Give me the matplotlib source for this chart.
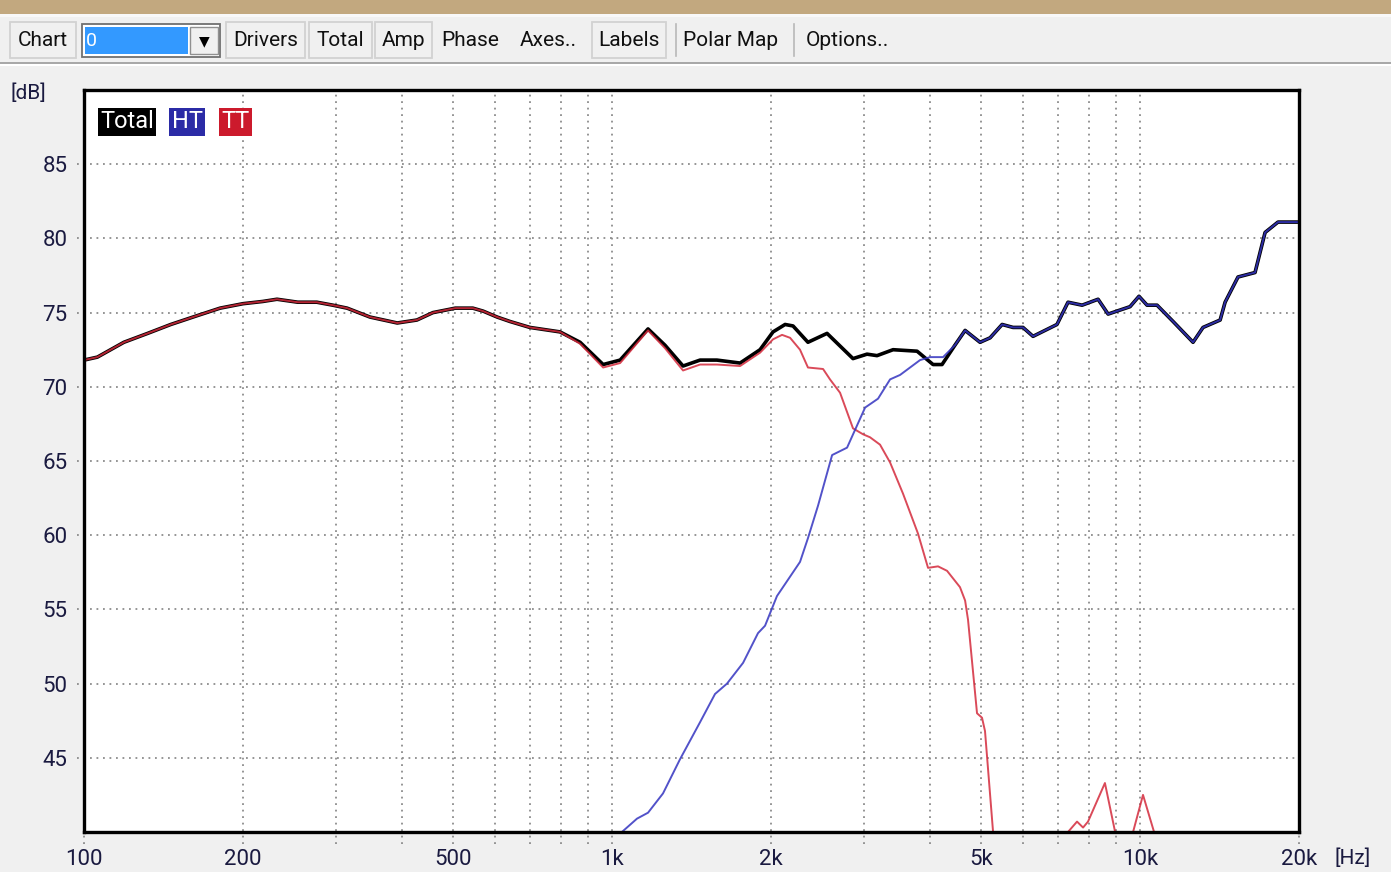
import numpy as np
import matplotlib.pyplot as plt
from matplotlib.patches import Rectangle
from matplotlib.ticker import FixedLocator, NullLocator, NullFormatter

# frequency response data
freq_total = [100, 106, 119, 132, 146, 164, 181, 200, 218, 232, 254, 276, 296, 315, 348,
              392, 427, 458, 505, 545, 570, 606, 641, 699, 797, 870, 962, 1036, 1170,
              1260, 1363, 1468, 1580, 1748, 1907, 2018, 2127, 2202, 2350, 2554, 2860,
              3040, 3176, 3406, 3782, 4055, 4217, 4460, 4663, 4977, 5200, 5480, 5748,
              6002, 6271, 6961, 7304, 7768, 8327, 8700, 9573, 9954, 10310, 10770,
              11550, 12600, 13160, 14180, 14490, 15330, 16510, 17250, 18250, 20000]
spl_total = [71.8, 72.0, 73.0, 73.6, 74.2, 74.8, 75.3, 75.6, 75.75, 75.9, 75.7, 75.7,
             75.5, 75.3, 74.7, 74.3, 74.5, 75.0, 75.3, 75.3, 75.1, 74.7, 74.4, 74.0,
             73.7, 73.0, 71.5, 71.8, 73.9, 72.8, 71.4, 71.8, 71.8, 71.6, 72.5, 73.7,
             74.2, 74.1, 73.0, 73.6, 71.9, 72.2, 72.1, 72.5, 72.4, 71.5, 71.5, 72.8,
             73.8, 73.0, 73.3, 74.2, 74.0, 74.0, 73.4, 74.2, 75.7, 75.5, 75.9, 74.9,
             75.4, 76.1, 75.5, 75.5, 74.4, 73.0, 74.0, 74.5, 75.7, 77.4, 77.7, 80.4,
             81.1, 81.1]

freq_ht = [1000, 1044, 1115, 1170, 1249, 1345, 1468, 1567, 1651, 1771, 1890, 1949, 2053,
           2270, 2350, 2456, 2611, 2787, 2886, 3015, 3190, 3362, 3512, 3831, 4003, 4236,
           4460, 4663, 4977, 5200, 5480, 5748, 6002, 6271, 6961, 7304, 7768, 8327,
           8700, 9573, 9954, 10310, 10770, 11550, 12600, 13160, 14180, 14490, 15330,
           16510, 17250, 18250, 20000]
spl_ht = [38.5, 40.0, 40.9, 41.3, 42.6, 44.9, 47.4, 49.3, 50.0, 51.4, 53.4, 53.9, 55.9,
          58.2, 59.8, 62.0, 65.4, 65.9, 67.1, 68.6, 69.2, 70.5, 70.8, 71.8, 72.0, 72.0,
          72.8, 73.8, 73.0, 73.3, 74.2, 74.0, 74.0, 73.4, 74.2, 75.7, 75.5, 75.9,
          74.9, 75.4, 76.1, 75.5, 75.5, 74.4, 73.0, 74.0, 74.5, 75.7, 77.4, 77.7,
          80.4, 81.1, 81.1]

freq_tt = [100, 106, 119, 132, 146, 164, 181, 200, 218, 232, 254, 276, 296, 315, 348,
           392, 427, 458, 505, 545, 570, 606, 641, 699, 797, 870, 962, 1036, 1170, 1260,
           1363, 1468, 1580, 1748, 1907, 2018, 2099, 2174, 2270, 2350, 2510, 2587, 2703,
           2860, 2988, 3080, 3218, 3362, 3557, 3798, 3967, 4144, 4310, 4560, 4663, 4723,
           4912, 5020, 5086, 5268, 5500, 7100, 7304, 7597, 7800, 7970, 8580, 8970, 9200,
           9500, 9700, 10130, 10630, 11000, 20000]
spl_tt = [71.8, 72.0, 73.0, 73.6, 74.2, 74.8, 75.3, 75.6, 75.75, 75.9, 75.7, 75.7, 75.5,
          75.3, 74.7, 74.3, 74.5, 75.0, 75.3, 75.3, 75.1, 74.7, 74.4, 74.0, 73.7, 72.9,
          71.3, 71.6, 73.8, 72.6, 71.1, 71.5, 71.5, 71.4, 72.3, 73.2, 73.5, 73.3, 72.5,
          71.3, 71.2, 70.5, 69.6, 67.2, 66.8, 66.6, 66.1, 64.9, 62.8, 60.1, 57.8, 57.9,
          57.6, 56.5, 55.6, 54.3, 48.0, 47.7, 46.8, 40.0, 34.0, 34.0, 40.0, 40.7, 40.3,
          40.7, 43.3, 40.0, 34.0, 34.0, 40.0, 42.5, 40.0, 34.0, 30.0]

x_grid = [100, 200, 300, 400, 500, 600, 700, 800, 900, 1000, 2000, 3000, 4000, 5000,
          6000, 7000, 8000, 9000, 10000, 20000]
x_labels = {100: '100', 200: '200', 500: '500', 1000: '1k', 2000: '2k',
            5000: '5k', 10000: '10k', 20000: '20k'}
y_grid = [45, 50, 55, 60, 65, 70, 75, 80, 85]

font = ['Roboto', 'DejaVu Sans']
txt_col = '#1a1a40'

fig = plt.figure(figsize=(13.91, 8.72), dpi=100, facecolor='#f0f0f0')

# toolbar / window chrome, pixel coordinates
ui = fig.add_axes([0, 0, 1, 1], zorder=-1)
ui.set_xlim(0, 1391)
ui.set_ylim(872, 0)
ui.axis('off')
ui.add_patch(Rectangle((0, 0), 1391, 14, facecolor='#c2a87f', edgecolor='none'))
ui.add_patch(Rectangle((0, 14), 1391, 3, facecolor='#f8f8f8', edgecolor='none'))
ui.add_patch(Rectangle((0, 62), 1391, 2, facecolor='#a8a8a8', edgecolor='none'))
ui.add_patch(Rectangle((0, 64), 1391, 2, facecolor='#ffffff', edgecolor='none'))


def button(x0, x1, label, boxed=True):
    if boxed:
        ui.add_patch(Rectangle((x0, 22), x1 - x0, 36, facecolor='#f0f0f0',
                               edgecolor='#d2d2d2', lw=1.3))
    ui.text((x0 + x1) / 2, 41, label, ha='center', va='center', fontsize=15,
            family=font, color='#101010')


button(10, 76, 'Chart')
button(226, 305, 'Drivers')
button(309, 372, 'Total')
button(375, 432, 'Amp')
button(438, 502, 'Phase', boxed=False)
button(514, 582, 'Axes..', boxed=False)
button(592, 666, 'Labels')
button(684, 778, 'Polar Map', boxed=False)
button(803, 892, 'Options..', boxed=False)
ui.plot([676, 676], [24, 56], color='#b8b8b8', lw=1.2)
ui.plot([794, 794], [24, 56], color='#b8b8b8', lw=1.2)

# combo box
ui.add_patch(Rectangle((82, 24), 138, 33, facecolor='#ffffff', edgecolor='#707070', lw=1.3))
ui.add_patch(Rectangle((85, 27), 103, 27, facecolor='#3399ff', edgecolor='none'))
ui.add_patch(Rectangle((190, 27), 28, 27, facecolor='#f0f0f0', edgecolor='#909090', lw=1))
ui.text(86, 41, '0', ha='left', va='center', fontsize=14, family=font, color='white')
ui.text(204, 41, '\u25bc', ha='center', va='center', fontsize=10, color='black',
        family='DejaVu Sans')

ui.text(10, 93, '[dB]', ha='left', va='center', fontsize=15, family=font, color=txt_col)
ui.text(1334, 858, '[Hz]', ha='left', va='center', fontsize=15, family=font, color=txt_col)

# main chart
ax = fig.add_axes([84 / 1391, 1 - 832 / 872, 1215 / 1391, 742 / 872])
ax.set_facecolor('white')
ax.set_xscale('log')
ax.set_xlim(100, 20000)
ax.set_ylim(40, 90)

ax.hlines(y_grid, -0.006, 1, transform=ax.get_yaxis_transform(), colors='#8c8c8c',
          linestyles=(0, (1, 2.6)), lw=1.3, clip_on=False, zorder=1)
ax.vlines(x_grid, -0.016, 1, transform=ax.get_xaxis_transform(), colors='#8c8c8c',
          linestyles=(0, (1, 2.6)), lw=1.3, clip_on=False, zorder=1)

ax.plot(freq_total, spl_total, color='black', lw=2.6, zorder=3)
ax.plot(freq_tt, spl_tt, color='#d42a3c', lw=1.4, alpha=0.85, zorder=4)
ax.plot(freq_ht, spl_ht, color='#3434c0', lw=1.4, alpha=0.85, zorder=4)

ax.xaxis.set_major_locator(FixedLocator(list(x_labels.keys())))
ax.set_xticklabels(list(x_labels.values()))
ax.xaxis.set_minor_locator(NullLocator())
ax.xaxis.set_minor_formatter(NullFormatter())
ax.set_yticks(y_grid)
ax.tick_params(length=0, pad=12, labelsize=16, labelcolor=txt_col)
for lab in ax.get_xticklabels() + ax.get_yticklabels():
    lab.set_family(font)

for s in ax.spines.values():
    s.set_linewidth(2.4)
    s.set_color('black')
    s.set_zorder(6)

legend_items = [('Total', 'black', 0.0354), ('HT', '#2b2ba6', 0.0848), ('TT', '#cc1a2c', 0.1243)]
for name, col, xpos in legend_items:
    ax.text(xpos, 0.957, name, transform=ax.transAxes, ha='center', va='center',
            fontsize=17, family=font, color='white', zorder=7,
            bbox=dict(boxstyle='square,pad=0.1', facecolor=col, edgecolor='none'))

fig.savefig('out.png', dpi=100, facecolor=fig.get_facecolor())
